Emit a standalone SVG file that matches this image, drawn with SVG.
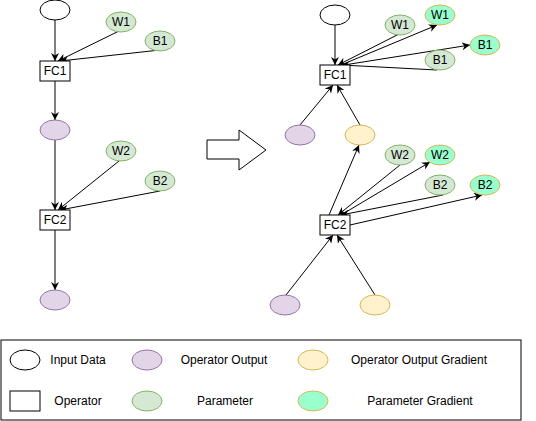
<svg xmlns="http://www.w3.org/2000/svg" width="536" height="421" viewBox="0 0 536 421">
<style>
text{font-family:"Liberation Sans",Arial,sans-serif;font-size:12px;fill:#000;text-anchor:middle;dominant-baseline:central}
.in{fill:#fff;stroke:#000}
.op{fill:#fff;stroke:#000}
.out{fill:#e1d5e7;stroke:#9673a6}
.og{fill:#fff2cc;stroke:#d6b656}
.pa{fill:#d5e8d4;stroke:#82b366}
.pg{fill:#99ffcc;stroke:#d6b656}
.e{stroke:#000;stroke-width:1;fill:none;marker-end:url(#ah)}
</style>
<defs>
<marker id="ah" viewBox="0 0 10 10" refX="10" refY="5" markerWidth="8" markerHeight="8" orient="auto" markerUnits="userSpaceOnUse">
<path d="M0,0 L10,5 L0,10 L3,5 z" fill="#000"/>
</marker>
</defs>
<rect width="536" height="421" fill="#fff"/>
<g id="connectors">
<line class="e" x1="55" y1="20" x2="55" y2="61"/>
<line class="e" x1="119" y1="31" x2="58" y2="61"/>
<line class="e" x1="160" y1="50" x2="60" y2="61"/>
<line class="e" x1="55" y1="81" x2="55" y2="120"/>
<line class="e" x1="55" y1="140" x2="55" y2="210"/>
<line class="e" x1="119" y1="161" x2="58" y2="210"/>
<line class="e" x1="160" y1="191" x2="60" y2="210"/>
<line class="e" x1="55" y1="230" x2="55" y2="290"/>

<line class="e" x1="335" y1="25" x2="335" y2="65"/>
<line class="e" x1="399" y1="34" x2="338" y2="65"/>
<line class="e" x1="341" y1="65" x2="437" y2="25"/>
<line class="e" x1="344" y1="65" x2="470" y2="45"/>
<line class="e" x1="437" y1="70" x2="341" y2="65"/>
<line class="e" x1="300" y1="125" x2="333" y2="85"/>
<line class="e" x1="360" y1="125" x2="337" y2="85"/>

<line class="e" x1="329" y1="215" x2="359" y2="145"/>
<line class="e" x1="400" y1="165" x2="338" y2="215"/>
<line class="e" x1="341" y1="215" x2="430" y2="162"/>
<line class="e" x1="443" y1="195" x2="341" y2="215"/>
<line class="e" x1="350" y1="225" x2="482" y2="195"/>
<line class="e" x1="286" y1="295" x2="333" y2="235"/>
<line class="e" x1="375" y1="295" x2="337" y2="235"/>
</g>

<g id="left-input"><ellipse class="in" cx="55" cy="10" rx="15" ry="10"/></g>
<g id="left-w1"><ellipse class="pa" cx="121" cy="22" rx="15" ry="10"/><text x="121" y="22">W1</text></g>
<g id="left-b1"><ellipse class="pa" cx="160" cy="41" rx="15" ry="10"/><text x="160" y="41">B1</text></g>
<g id="left-fc1"><rect class="op" x="40" y="61" width="30" height="20"/><text x="55" y="71">FC1</text></g>
<g id="left-out1"><ellipse class="out" cx="55" cy="130" rx="15" ry="10"/></g>
<g id="left-w2"><ellipse class="pa" cx="121" cy="151" rx="15" ry="10"/><text x="121" y="151">W2</text></g>
<g id="left-b2"><ellipse class="pa" cx="160" cy="181" rx="15" ry="10"/><text x="160" y="181">B2</text></g>
<g id="left-fc2"><rect class="op" x="40" y="210" width="30" height="20"/><text x="55" y="220">FC2</text></g>
<g id="left-out2"><ellipse class="out" cx="55" cy="300" rx="15" ry="10"/></g>

<g id="big-arrow"><polygon points="207,140 239,140 239,130 266,150 239,170 239,159 207,159" fill="#fff" stroke="#000"/></g>

<g id="right-input"><ellipse class="in" cx="335" cy="15" rx="15" ry="10"/></g>
<g id="right-w1"><ellipse class="pa" cx="400" cy="25" rx="15" ry="10"/><text x="400" y="25">W1</text></g>
<g id="right-w1g"><ellipse class="pg" cx="440" cy="15" rx="15" ry="10"/><text x="440" y="15">W1</text></g>
<g id="right-b1g"><ellipse class="pg" cx="485" cy="45" rx="15" ry="10"/><text x="485" y="45">B1</text></g>
<g id="right-b1"><ellipse class="pa" cx="440" cy="60" rx="15" ry="10"/><text x="440" y="60">B1</text></g>
<g id="right-fc1"><rect class="op" x="320" y="65" width="30" height="20"/><text x="335" y="75">FC1</text></g>
<g id="right-out1"><ellipse class="out" cx="300" cy="135" rx="15" ry="10"/></g>
<g id="right-og1"><ellipse class="og" cx="360" cy="135" rx="15" ry="10"/></g>
<g id="right-w2"><ellipse class="pa" cx="400" cy="155" rx="15" ry="10"/><text x="400" y="155">W2</text></g>
<g id="right-w2g"><ellipse class="pg" cx="440" cy="155" rx="15" ry="10"/><text x="440" y="155">W2</text></g>
<g id="right-b2"><ellipse class="pa" cx="440" cy="185" rx="15" ry="10"/><text x="440" y="185">B2</text></g>
<g id="right-b2g"><ellipse class="pg" cx="485" cy="185" rx="15" ry="10"/><text x="485" y="185">B2</text></g>
<g id="right-fc2"><rect class="op" x="320" y="215" width="30" height="20"/><text x="335" y="225">FC2</text></g>
<g id="right-out2"><ellipse class="out" cx="285" cy="305" rx="15" ry="10"/></g>
<g id="right-og2"><ellipse class="og" cx="375" cy="305" rx="15" ry="10"/></g>

<g id="legend">
<rect x="1" y="340" width="520" height="80" fill="#fff" stroke="#000"/>
<ellipse class="in" cx="25" cy="360" rx="15" ry="10"/><text x="78" y="360">Input Data</text>
<ellipse class="out" cx="147" cy="360" rx="15" ry="10"/><text x="224" y="360">Operator Output</text>
<ellipse class="og" cx="313" cy="360" rx="15" ry="10"/><text x="419" y="360">Operator Output Gradient</text>
<rect class="op" x="10" y="391" width="30" height="20"/><text x="78" y="401">Operator</text>
<ellipse class="pa" cx="147" cy="401" rx="15" ry="10"/><text x="225" y="401">Parameter</text>
<ellipse class="pg" cx="313" cy="401" rx="15" ry="10"/><text x="420" y="401">Parameter Gradient</text>
</g>
</svg>
